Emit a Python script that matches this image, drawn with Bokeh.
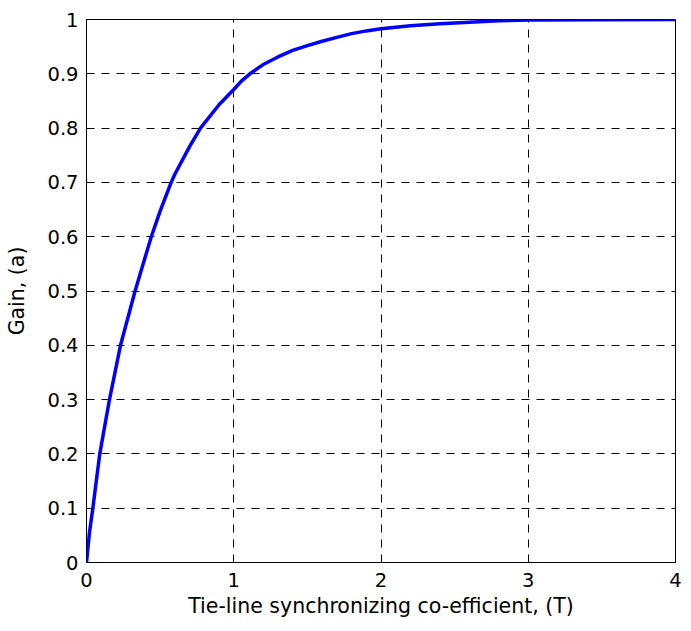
from bokeh.plotting import figure
from bokeh.models import FixedTicker, Range1d
from bokeh.embed import file_html
from bokeh.resources import INLINE

# Data
T_values = [0.0, 0.02, 0.043, 0.09, 0.156, 0.231, 0.33, 0.44, 0.5, 0.575, 0.6, 0.7,
            0.774, 0.9, 1.0, 1.05, 1.11, 1.2, 1.3, 1.4, 1.5, 1.6, 1.7, 1.8, 1.9, 2.0,
            2.2, 2.4, 2.6, 2.8, 3.0, 4.0]
gain_values = [0.0, 0.055, 0.1, 0.2, 0.3, 0.4, 0.5, 0.6, 0.647, 0.7, 0.715, 0.766,
               0.8, 0.843, 0.871, 0.886, 0.9, 0.917, 0.931, 0.943, 0.952, 0.960, 0.967, 0.974, 0.979, 0.983,
               0.9885, 0.992, 0.995, 0.9975, 0.999, 1.0]

x_ticks = [0, 1, 2, 3, 4]
x_tick_labels = ["0", "1", "2", "3", "4"]
y_ticks = [0, 0.1, 0.2, 0.3, 0.4, 0.5, 0.6, 0.7, 0.8, 0.9, 1.0]
y_tick_labels = ["0", "0.1", "0.2", "0.3", "0.4", "0.5", "0.6", "0.7", "0.8", "0.9", "1"]

FONT = "DejaVu Sans"

p = figure(width=683, height=623, frame_width=589, frame_height=543,
           output_backend="svg", toolbar_location=None,
           x_range=Range1d(0, 4), y_range=Range1d(0, 1),
           min_border_left=86, min_border_right=8, min_border_top=19, min_border_bottom=61)

p.line(T_values, gain_values, line_color="#0000ff", line_width=3.5)

p.xaxis.ticker = FixedTicker(ticks=x_ticks)
p.yaxis.ticker = FixedTicker(ticks=y_ticks)
p.xaxis.major_label_overrides = {t: l for t, l in zip(x_ticks, x_tick_labels)}
p.yaxis.major_label_overrides = {t: l for t, l in zip(y_ticks, y_tick_labels)}

p.xaxis.axis_label = "Tie-line synchronizing co-efficient, (T)"
p.yaxis.axis_label = "Gain, (a)"

for ax in (p.xaxis, p.yaxis):
    ax.axis_label_text_font = FONT
    ax.axis_label_text_font_style = "normal"
    ax.axis_label_text_font_size = "20.5px"
    ax.axis_label_text_color = "black"
    ax.major_label_text_font = FONT
    ax.major_label_text_font_size = "19.5px"
    ax.major_label_text_color = "black"
    ax.axis_line_color = "black"
    ax.major_tick_line_color = "black"
    ax.major_tick_in = 6
    ax.major_tick_out = 0
    ax.minor_tick_line_color = None

p.xaxis.major_label_standoff = 10
p.xaxis.axis_label_standoff = 4
p.yaxis.major_label_standoff = 8
p.yaxis.axis_label_standoff = 15

p.xgrid.grid_line_color = "black"
p.ygrid.grid_line_color = "black"
p.xgrid.grid_line_dash = "8 7"
p.ygrid.grid_line_dash = "8 7"
p.xgrid.grid_line_width = 1
p.ygrid.grid_line_width = 1

p.outline_line_color = "black"
p.outline_line_width = 1
p.background_fill_color = "white"
p.border_fill_color = "white"

open("out.html", "w").write(file_html(p, INLINE))
